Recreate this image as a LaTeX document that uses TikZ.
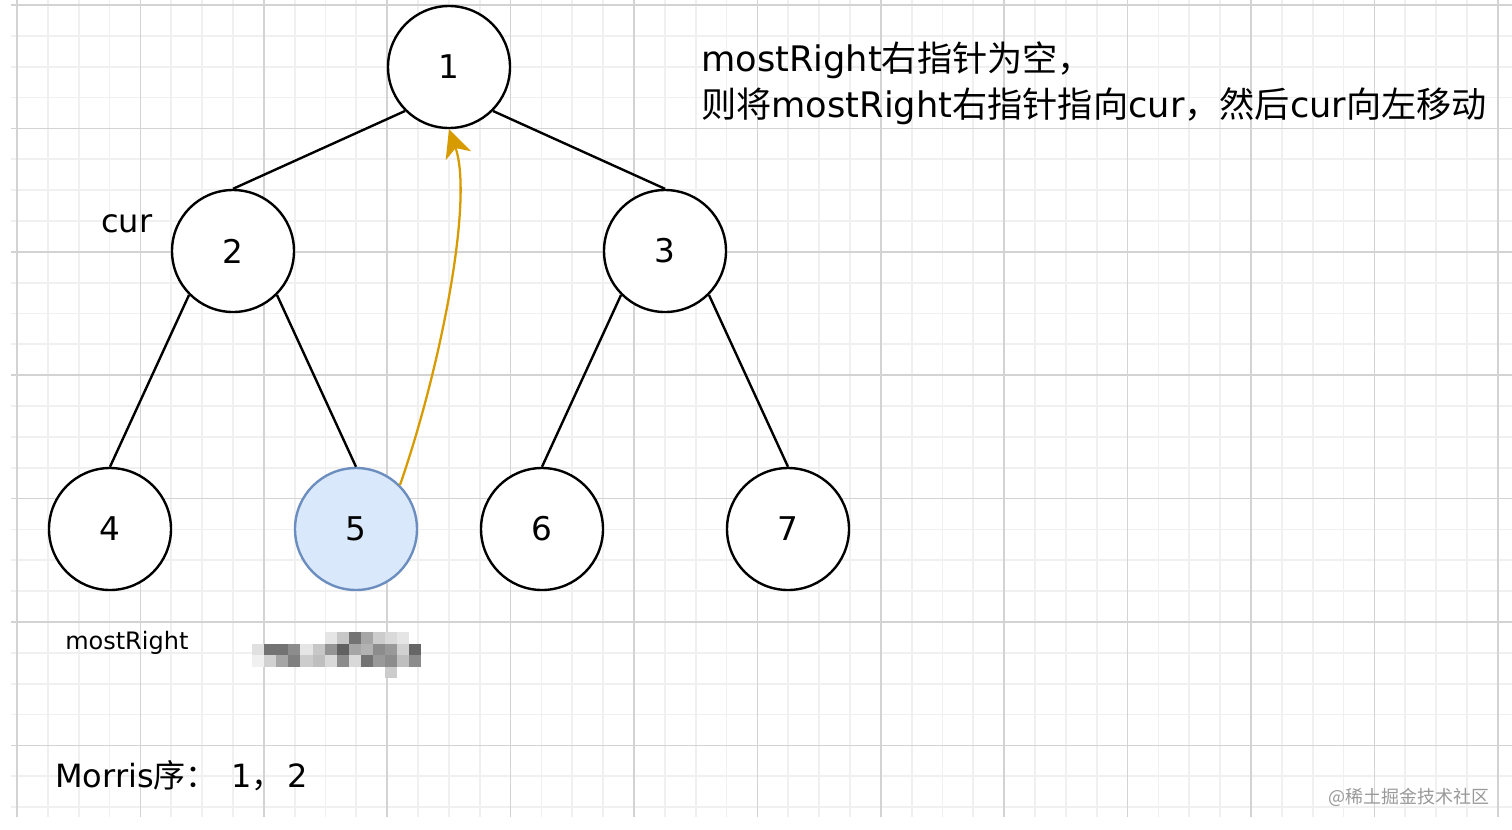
\documentclass[tikz,border=0pt]{standalone}
\usepackage{fontspec}
\setmainfont{DejaVu Sans}
\newfontfamily\cjk{Noto Sans CJK SC}
\usepackage{xcolor}
\definecolor{ink}{HTML}{000000}
\definecolor{gridMinor}{HTML}{F0F0F0}
\definecolor{gridMajor}{HTML}{D3D3D3}
\definecolor{cHotBg}{HTML}{DAE8FC}
\definecolor{cHotFr}{HTML}{6C8EBF}
\definecolor{cBack}{HTML}{D79B00}
\definecolor{cMark}{HTML}{999999}
\usetikzlibrary{arrows.meta,positioning}
\tikzset{>={Stealth[length=2.4mm]},
  treenode/.style={circle,draw=ink,line width=1.8pt,fill=white,minimum size=91.5pt,
    inner sep=0pt,font=\fontsize{24.5}{28}\selectfont},
  hotnode/.style={treenode,fill=cHotBg,draw=cHotFr},
  link/.style={line width=1.8pt,ink},
  backlink/.style={-{Stealth[length=21pt,width=20pt,inset=6pt]},line width=1.7pt,cBack},
  gridminor/.style={line width=1.3pt,gridMinor},
  gridmajor/.style={line width=1.1pt,gridMajor},
  lbl/.style={inner sep=0pt,anchor=base west,font=\fontsize{24}{33}\selectfont},
  notelbl/.style={lbl,align=left,font=\fontsize{26.4}{34}\selectfont},
  smalllbl/.style={lbl,font=\fontsize{18}{22}\selectfont},
  watermark/.style={inner sep=0pt,anchor=base east,text=cMark,font=\fontsize{13.5}{16}\selectfont}}

\begin{document}
\begin{tikzpicture}[x=0.75pt,y=-0.75pt]
  \useasboundingbox (0,0) rectangle (1512,829);
  \fill[white] (0,0) rectangle (1512,829);
  % paper grid
  \foreach \i in {0,...,48} \draw[gridminor] ({17+30.85*\i},0) -- ({17+30.85*\i},817);
  \foreach \j in {0,...,26} \draw[gridminor] (11,{5+30.85*\j}) -- (1512,{5+30.85*\j});
  \foreach \i in {0,4,...,48} \draw[gridmajor] ({17+30.85*\i},0) -- ({17+30.85*\i},817);
  \foreach \j in {0,4,...,24} \draw[gridmajor] (11,{5+30.85*\j}) -- (1512,{5+30.85*\j});

  \node[treenode] (n1) at (449,67) {1};
  \node[treenode] (n2) at (233,251) {2};
  \node[treenode] (n3) at (665,251) {3};
  \node[treenode] (n4) at (110,529) {4};
  \node[hotnode] (n5) at (356,529) {5};
  \node[treenode] (n6) at (542,529) {6};
  \node[treenode] (n7) at (788,529) {7};
  \draw[link] (n1.south west) -- (n2.north);
  \draw[link] (n1.south east) -- (n3.north);
  \draw[link] (n2.south west) -- (n4.north);
  \draw[link] (n2.south east) -- (n5.north);
  \draw[link] (n3.south west) -- (n6.north);
  \draw[link] (n3.south east) -- (n7.north);
  \draw[backlink] (n5.north east) .. controls (440,370) and (474,200) .. (n1.south);

  \node[lbl] (cur) at (101,232) {cur};
  \node[notelbl] (note) at (701,117)
    {mostRight{\cjk 右指针为空，}\\{\cjk 则将}mostRight{\cjk 右指针指向}cur{\cjk ，然后}cur{\cjk 向左移动}};
  \node[smalllbl] (mr) at (65,649) {mostRight};
  \node[lbl] (order) at (55,787) {Morris{\cjk 序：}\hspace{10pt}1{\cjk ，}\hspace{3pt}2};
  \node[watermark] (wm) at (1490,803) {{\cjk @稀土掘金技术社区}};

  % blurred patch
  \foreach \c/\r/\g in {6/0/10,7/0/22,8/0/55,9/0/35,10/0/20,11/0/15,12/0/10,
      0/1/12,1/1/55,2/1/55,3/1/45,4/1/10,5/1/22,6/1/42,7/1/62,8/1/35,9/1/30,10/1/45,11/1/40,12/1/18,13/1/60,
      0/2/6,1/2/18,2/2/35,3/2/50,4/2/20,5/2/25,6/2/15,7/2/45,8/2/15,9/2/55,10/2/40,11/2/45,12/2/25,13/2/45,
      11/3/20}
    \fill[black!\g] ({252+12.1*\c},{632+11.5*\r}) rectangle ++(12.1,11.5);
\end{tikzpicture}
\end{document}
